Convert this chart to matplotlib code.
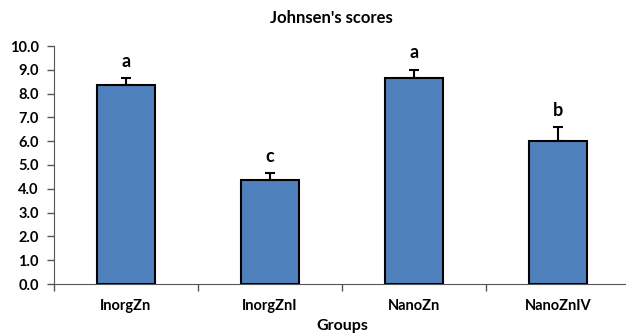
import matplotlib
matplotlib.use("Agg")
import matplotlib.pyplot as plt
import numpy as np

categories = ["InorgZn", "InorgZnI", "NanoZn", "NanoZnIV"]
values = [8.35, 4.35, 8.65, 6.0]
errors = [0.3, 0.32, 0.35, 0.6]
letters = ["a", "c", "a", "b"]
yticks = [0, 1, 2, 3, 4, 5, 6, 7, 8, 9, 10]

plt.rcParams['font.family'] = ['Lato', 'DejaVu Sans']

fig = plt.figure(figsize=(6.26, 3.36), dpi=100)
ax = fig.add_axes([54/626, 1-284/336, (630-54)/626, (284-46)/336])

x = np.arange(len(categories))
ax.bar(x, values, width=0.4, color="#4F81BD", edgecolor="black", linewidth=1.5, zorder=2)
ax.errorbar(x, values, yerr=[np.zeros(len(errors)), errors], fmt="none",
            ecolor="black", elinewidth=1.5, capsize=3.5, capthick=1.5, zorder=3)
for xi, v, e, l in zip(x, values, errors, letters):
    ax.text(xi, v + e + 0.35, l, ha="center", va="bottom", fontsize=13, fontweight="bold")

ax.set_xlim(-0.5, 3.5)
ax.set_ylim(0, 10)
ax.set_yticks(yticks)
ax.set_yticklabels([f"{t:.1f}" for t in yticks], fontsize=10.5, fontweight="bold")
ax.set_xticks(x)
ax.set_xticklabels(categories, fontsize=10.5, fontweight="bold")
ax.set_xticks(np.arange(-0.5, 3.6, 1.0), minor=True)
ax.tick_params(axis="x", which="major", length=0, pad=11)
ax.tick_params(axis="x", which="minor", length=5, width=1, color="#555555")
ax.tick_params(axis="y", length=5, width=1, color="#555555", pad=6)
for s in ["top", "right"]:
    ax.spines[s].set_visible(False)
ax.spines["left"].set_color("#555555")
ax.spines["bottom"].set_color("#555555")
ax.set_xlabel("Groups", fontsize=11.5, fontweight="bold", labelpad=4)
fig.text(331/626, 1-18/336, "Johnsen's scores", ha="center", va="center",
         fontsize=12, fontweight="bold")

fig.savefig("out.png", dpi=100)
